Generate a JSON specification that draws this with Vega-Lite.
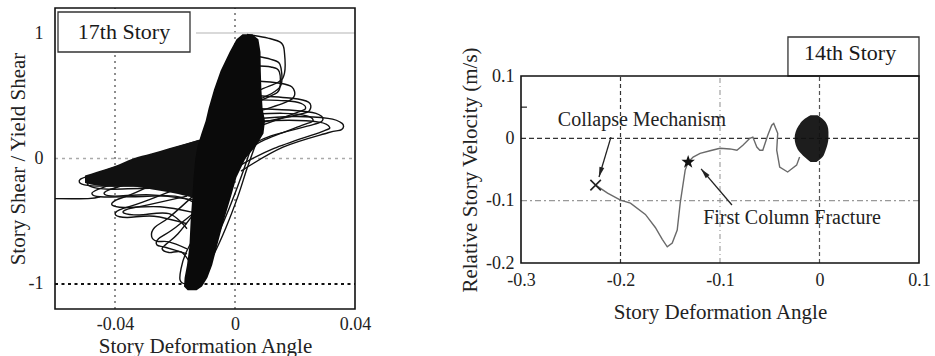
{
  "$schema": "https://vega.github.io/schema/vega-lite/v6.json",
  "background": "white",
  "padding": {"left": 7, "top": 7, "right": 0, "bottom": 0},
  "config": {"view": {"stroke": null}, "font": "Liberation Serif"},
  "bounds": "flush",
  "spacing": 166,
  "datasets": {
    "one": [{}],
    "core": [
      {"y": -1.05, "xl": -0.0158, "xr": -0.0128},
      {"y": -1.02, "xl": -0.0170, "xr": -0.0110},
      {"y": -0.95, "xl": -0.0168, "xr": -0.0092},
      {"y": -0.85, "xl": -0.0160, "xr": -0.0076},
      {"y": -0.70, "xl": -0.0152, "xr": -0.0060},
      {"y": -0.50, "xl": -0.0148, "xr": -0.0038},
      {"y": -0.30, "xl": -0.0142, "xr": -0.0013},
      {"y": -0.15, "xl": -0.0138, "xr": 0.0005},
      {"y": 0.00, "xl": -0.0132, "xr": 0.0035},
      {"y": 0.10, "xl": -0.0125, "xr": 0.0070},
      {"y": 0.20, "xl": -0.0112, "xr": 0.0095},
      {"y": 0.30, "xl": -0.0098, "xr": 0.0100},
      {"y": 0.40, "xl": -0.0088, "xr": 0.0092},
      {"y": 0.55, "xl": -0.0070, "xr": 0.0088},
      {"y": 0.70, "xl": -0.0048, "xr": 0.0086},
      {"y": 0.85, "xl": -0.0018, "xr": 0.0085},
      {"y": 0.95, "xl": 0.0005, "xr": 0.0078},
      {"y": 0.99, "xl": 0.0025, "xr": 0.0058}
    ],
    "wing": [
      {"x": -0.050, "yl": -0.195, "yu": -0.135},
      {"x": -0.046, "yl": -0.215, "yu": -0.105},
      {"x": -0.040, "yl": -0.225, "yu": -0.06},
      {"x": -0.034, "yl": -0.225, "yu": 0.0},
      {"x": -0.028, "yl": -0.245, "yu": 0.04},
      {"x": -0.022, "yl": -0.27, "yu": 0.082},
      {"x": -0.016, "yl": -0.3, "yu": 0.122},
      {"x": -0.012, "yl": -0.32, "yu": 0.15}
    ],
    "loops": [
      {"g": "R1", "i": 0, "x": 0.004, "y": 0.99}, {"g": "R1", "i": 1, "x": 0.011, "y": 0.96}, {"g": "R1", "i": 2, "x": 0.0155, "y": 0.92}, {"g": "R1", "i": 3, "x": 0.0165, "y": 0.84}, {"g": "R1", "i": 4, "x": 0.0165, "y": 0.68}, {"g": "R1", "i": 5, "x": 0.0145, "y": 0.61}, {"g": "R1", "i": 6, "x": 0.008, "y": 0.54}, {"g": "R1", "i": 7, "x": 0.004, "y": 0.45},
      {"g": "R2", "i": 0, "x": 0.006, "y": 0.82}, {"g": "R2", "i": 1, "x": 0.012, "y": 0.79}, {"g": "R2", "i": 2, "x": 0.015, "y": 0.75}, {"g": "R2", "i": 3, "x": 0.0155, "y": 0.6}, {"g": "R2", "i": 4, "x": 0.013, "y": 0.53}, {"g": "R2", "i": 5, "x": 0.007, "y": 0.46},
      {"g": "R3", "i": 0, "x": 0.006, "y": 0.74}, {"g": "R3", "i": 1, "x": 0.012, "y": 0.73}, {"g": "R3", "i": 2, "x": 0.0148, "y": 0.69}, {"g": "R3", "i": 3, "x": 0.0148, "y": 0.55}, {"g": "R3", "i": 4, "x": 0.012, "y": 0.5}, {"g": "R3", "i": 5, "x": 0.006, "y": 0.44},
      {"g": "R4", "i": 0, "x": 0.006, "y": 0.62}, {"g": "R4", "i": 1, "x": 0.015, "y": 0.6}, {"g": "R4", "i": 2, "x": 0.019, "y": 0.57}, {"g": "R4", "i": 3, "x": 0.0198, "y": 0.5}, {"g": "R4", "i": 4, "x": 0.017, "y": 0.45}, {"g": "R4", "i": 5, "x": 0.007, "y": 0.37},
      {"g": "R5", "i": 0, "x": 0.007, "y": 0.5}, {"g": "R5", "i": 1, "x": 0.019, "y": 0.48}, {"g": "R5", "i": 2, "x": 0.0245, "y": 0.45}, {"g": "R5", "i": 3, "x": 0.025, "y": 0.39}, {"g": "R5", "i": 4, "x": 0.022, "y": 0.355}, {"g": "R5", "i": 5, "x": 0.007, "y": 0.28},
      {"g": "R6", "i": 0, "x": 0.006, "y": 0.47}, {"g": "R6", "i": 1, "x": 0.017, "y": 0.46}, {"g": "R6", "i": 2, "x": 0.022, "y": 0.44}, {"g": "R6", "i": 3, "x": 0.0235, "y": 0.4}, {"g": "R6", "i": 4, "x": 0.021, "y": 0.37}, {"g": "R6", "i": 5, "x": 0.006, "y": 0.24},
      {"g": "R7", "i": 0, "x": 0.005, "y": 0.4}, {"g": "R7", "i": 1, "x": 0.019, "y": 0.385}, {"g": "R7", "i": 2, "x": 0.027, "y": 0.36}, {"g": "R7", "i": 3, "x": 0.0293, "y": 0.31}, {"g": "R7", "i": 4, "x": 0.026, "y": 0.27}, {"g": "R7", "i": 5, "x": 0.012, "y": 0.18}, {"g": "R7", "i": 6, "x": 0.003, "y": 0.08},
      {"g": "R8", "i": 0, "x": 0.004, "y": 0.31}, {"g": "R8", "i": 1, "x": 0.019, "y": 0.335}, {"g": "R8", "i": 2, "x": 0.031, "y": 0.32}, {"g": "R8", "i": 3, "x": 0.0357, "y": 0.28}, {"g": "R8", "i": 4, "x": 0.0355, "y": 0.23}, {"g": "R8", "i": 5, "x": 0.031, "y": 0.205}, {"g": "R8", "i": 6, "x": 0.016, "y": 0.09}, {"g": "R8", "i": 7, "x": 0.002, "y": -0.1},
      {"g": "R9", "i": 0, "x": 0.004, "y": 0.29}, {"g": "R9", "i": 1, "x": 0.018, "y": 0.305}, {"g": "R9", "i": 2, "x": 0.028, "y": 0.29}, {"g": "R9", "i": 3, "x": 0.0315, "y": 0.25}, {"g": "R9", "i": 4, "x": 0.029, "y": 0.215}, {"g": "R9", "i": 5, "x": 0.013, "y": 0.08}, {"g": "R9", "i": 6, "x": 0.002, "y": -0.05},
      {"g": "R10", "i": 0, "x": 0.005, "y": 0.35}, {"g": "R10", "i": 1, "x": 0.016, "y": 0.36}, {"g": "R10", "i": 2, "x": 0.024, "y": 0.34}, {"g": "R10", "i": 3, "x": 0.026, "y": 0.3}, {"g": "R10", "i": 4, "x": 0.023, "y": 0.27}, {"g": "R10", "i": 5, "x": 0.01, "y": 0.15}, {"g": "R10", "i": 6, "x": 0.003, "y": 0.05},
      {"g": "R11", "i": 0, "x": 0.007, "y": 0.12}, {"g": "R11", "i": 1, "x": 0.004, "y": -0.08}, {"g": "R11", "i": 2, "x": 0.001, "y": -0.3}, {"g": "R11", "i": 3, "x": -0.003, "y": -0.55}, {"g": "R11", "i": 4, "x": -0.007, "y": -0.76}, {"g": "R11", "i": 5, "x": -0.011, "y": -0.92},
      {"g": "R12", "i": 0, "x": 0.005, "y": 0.06}, {"g": "R12", "i": 1, "x": 0.002, "y": -0.15}, {"g": "R12", "i": 2, "x": -0.002, "y": -0.4}, {"g": "R12", "i": 3, "x": -0.006, "y": -0.62}, {"g": "R12", "i": 4, "x": -0.01, "y": -0.8},
      {"g": "L1", "i": 0, "x": -0.011, "y": 0.15}, {"g": "L1", "i": 1, "x": -0.03, "y": 0.01}, {"g": "L1", "i": 2, "x": -0.046, "y": -0.12}, {"g": "L1", "i": 3, "x": -0.0515, "y": -0.165}, {"g": "L1", "i": 4, "x": -0.051, "y": -0.205}, {"g": "L1", "i": 5, "x": -0.046, "y": -0.22}, {"g": "L1", "i": 6, "x": -0.03, "y": -0.215}, {"g": "L1", "i": 7, "x": -0.015, "y": -0.22}, {"g": "L1", "i": 8, "x": -0.012, "y": -0.28},
      {"g": "L2", "i": 0, "x": -0.012, "y": 0.1}, {"g": "L2", "i": 1, "x": -0.04, "y": -0.12}, {"g": "L2", "i": 2, "x": -0.0485, "y": -0.18}, {"g": "L2", "i": 3, "x": -0.048, "y": -0.225}, {"g": "L2", "i": 4, "x": -0.042, "y": -0.245}, {"g": "L2", "i": 5, "x": -0.025, "y": -0.24}, {"g": "L2", "i": 6, "x": -0.013, "y": -0.3},
      {"g": "L3", "i": 0, "x": -0.012, "y": 0.05}, {"g": "L3", "i": 1, "x": -0.038, "y": -0.18}, {"g": "L3", "i": 2, "x": -0.0455, "y": -0.245}, {"g": "L3", "i": 3, "x": -0.0477, "y": -0.28}, {"g": "L3", "i": 4, "x": -0.045, "y": -0.305}, {"g": "L3", "i": 5, "x": -0.034, "y": -0.305}, {"g": "L3", "i": 6, "x": -0.02, "y": -0.3}, {"g": "L3", "i": 7, "x": -0.013, "y": -0.36},
      {"g": "L4", "i": 0, "x": -0.013, "y": 0.0}, {"g": "L4", "i": 1, "x": -0.033, "y": -0.18}, {"g": "L4", "i": 2, "x": -0.042, "y": -0.25}, {"g": "L4", "i": 3, "x": -0.0435, "y": -0.285}, {"g": "L4", "i": 4, "x": -0.04, "y": -0.3}, {"g": "L4", "i": 5, "x": -0.028, "y": -0.29}, {"g": "L4", "i": 6, "x": -0.014, "y": -0.33},
      {"g": "L5", "i": 0, "x": -0.014, "y": -0.05}, {"g": "L5", "i": 1, "x": -0.033, "y": -0.27}, {"g": "L5", "i": 2, "x": -0.0395, "y": -0.33}, {"g": "L5", "i": 3, "x": -0.041, "y": -0.37}, {"g": "L5", "i": 4, "x": -0.037, "y": -0.39}, {"g": "L5", "i": 5, "x": -0.025, "y": -0.385}, {"g": "L5", "i": 6, "x": -0.014, "y": -0.43},
      {"g": "L6", "i": 0, "x": -0.015, "y": -0.2}, {"g": "L6", "i": 1, "x": -0.031, "y": -0.35}, {"g": "L6", "i": 2, "x": -0.0385, "y": -0.41}, {"g": "L6", "i": 3, "x": -0.0398, "y": -0.45}, {"g": "L6", "i": 4, "x": -0.036, "y": -0.47}, {"g": "L6", "i": 5, "x": -0.027, "y": -0.46}, {"g": "L6", "i": 6, "x": -0.016, "y": -0.52},
      {"g": "L7", "i": 0, "x": -0.016, "y": -0.3}, {"g": "L7", "i": 1, "x": -0.029, "y": -0.37}, {"g": "L7", "i": 2, "x": -0.036, "y": -0.405}, {"g": "L7", "i": 3, "x": -0.037, "y": -0.435}, {"g": "L7", "i": 4, "x": -0.032, "y": -0.45}, {"g": "L7", "i": 5, "x": -0.022, "y": -0.44}, {"g": "L7", "i": 6, "x": -0.016, "y": -0.56},
      {"g": "L8", "i": 0, "x": -0.014, "y": -0.3}, {"g": "L8", "i": 1, "x": -0.022, "y": -0.47}, {"g": "L8", "i": 2, "x": -0.0268, "y": -0.55}, {"g": "L8", "i": 3, "x": -0.0278, "y": -0.62}, {"g": "L8", "i": 4, "x": -0.026, "y": -0.66}, {"g": "L8", "i": 5, "x": -0.022, "y": -0.665}, {"g": "L8", "i": 6, "x": -0.016, "y": -0.72},
      {"g": "L9", "i": 0, "x": -0.013, "y": -0.42}, {"g": "L9", "i": 1, "x": -0.021, "y": -0.57}, {"g": "L9", "i": 2, "x": -0.0255, "y": -0.64}, {"g": "L9", "i": 3, "x": -0.026, "y": -0.69}, {"g": "L9", "i": 4, "x": -0.023, "y": -0.71}, {"g": "L9", "i": 5, "x": -0.016, "y": -0.76},
      {"g": "L10", "i": 0, "x": -0.014, "y": -0.45}, {"g": "L10", "i": 1, "x": -0.019, "y": -0.6}, {"g": "L10", "i": 2, "x": -0.0228, "y": -0.68}, {"g": "L10", "i": 3, "x": -0.0243, "y": -0.72}, {"g": "L10", "i": 4, "x": -0.022, "y": -0.75}, {"g": "L10", "i": 5, "x": -0.018, "y": -0.745}, {"g": "L10", "i": 6, "x": -0.015, "y": -0.83},
      {"g": "L11", "i": 0, "x": -0.013, "y": -0.6}, {"g": "L11", "i": 1, "x": -0.0165, "y": -0.76}, {"g": "L11", "i": 2, "x": -0.018, "y": -0.88}, {"g": "L11", "i": 3, "x": -0.0183, "y": -0.97}, {"g": "L11", "i": 4, "x": -0.0165, "y": -1.0}, {"g": "L11", "i": 5, "x": -0.014, "y": -0.98},
      {"g": "L12", "i": 0, "x": -0.06, "y": -0.32}, {"g": "L12", "i": 1, "x": -0.049, "y": -0.32}, {"g": "L12", "i": 2, "x": -0.045, "y": -0.305}
    ],
    "blob": [
      {"y": 0.037, "xl": -0.009, "xr": -0.002},
      {"y": 0.03, "xl": -0.016, "xr": 0.004},
      {"y": 0.02, "xl": -0.021, "xr": 0.008},
      {"y": 0.01, "xl": -0.024, "xr": 0.009},
      {"y": 0.0, "xl": -0.025, "xr": 0.009},
      {"y": -0.01, "xl": -0.024, "xr": 0.008},
      {"y": -0.02, "xl": -0.021, "xr": 0.006},
      {"y": -0.03, "xl": -0.015, "xr": 0.003},
      {"y": -0.038, "xl": -0.009, "xr": -0.003}
    ],
    "curve": [
      {"i": 0, "x": -0.02, "y": -0.03}, {"i": 1, "x": -0.023, "y": -0.043}, {"i": 2, "x": -0.032, "y": -0.054}, {"i": 3, "x": -0.04, "y": -0.046},
      {"i": 4, "x": -0.043, "y": -0.019}, {"i": 5, "x": -0.042, "y": 0.008}, {"i": 6, "x": -0.046, "y": 0.024}, {"i": 7, "x": -0.048, "y": 0.021},
      {"i": 8, "x": -0.052, "y": 0.005}, {"i": 9, "x": -0.057, "y": -0.019}, {"i": 10, "x": -0.06, "y": -0.019}, {"i": 11, "x": -0.063, "y": -0.014},
      {"i": 12, "x": -0.067, "y": 0.002}, {"i": 13, "x": -0.07, "y": 0.0}, {"i": 14, "x": -0.077, "y": -0.011}, {"i": 15, "x": -0.083, "y": -0.019},
      {"i": 16, "x": -0.09, "y": -0.017}, {"i": 17, "x": -0.1, "y": -0.016}, {"i": 18, "x": -0.11, "y": -0.02}, {"i": 19, "x": -0.12, "y": -0.024},
      {"i": 20, "x": -0.127, "y": -0.03}, {"i": 21, "x": -0.132, "y": -0.038}, {"i": 22, "x": -0.135, "y": -0.051}, {"i": 23, "x": -0.14, "y": -0.104},
      {"i": 24, "x": -0.143, "y": -0.147}, {"i": 25, "x": -0.148, "y": -0.168}, {"i": 26, "x": -0.153, "y": -0.174}, {"i": 27, "x": -0.158, "y": -0.162},
      {"i": 28, "x": -0.165, "y": -0.143}, {"i": 29, "x": -0.175, "y": -0.122}, {"i": 30, "x": -0.19, "y": -0.104}, {"i": 31, "x": -0.2, "y": -0.099},
      {"i": 32, "x": -0.213, "y": -0.088}, {"i": 33, "x": -0.225, "y": -0.075}
    ]
  },
  "hconcat": [
    {
      "width": 300,
      "height": 301,
      "layer": [
        {"data": {"name": "one"}, "mark": {"type": "rule", "stroke": "#444", "strokeWidth": 1.2, "strokeDash": [2, 4]},
         "encoding": {"x": {"datum": -0.04, "type": "quantitative"}, "y": {"datum": -1.2, "type": "quantitative"}, "y2": {"datum": 1.2}}},
        {"data": {"name": "one"}, "mark": {"type": "rule", "stroke": "#444", "strokeWidth": 1.2, "strokeDash": [2, 4]},
         "encoding": {"x": {"datum": 0, "type": "quantitative"}, "y": {"datum": -1.2, "type": "quantitative"}, "y2": {"datum": 1.2}}},
        {"data": {"name": "one"}, "mark": {"type": "rule", "stroke": "#aaa", "strokeWidth": 1.4, "strokeDash": [3, 4]},
         "encoding": {"y": {"datum": 0, "type": "quantitative"}, "x": {"datum": -0.06, "type": "quantitative"}, "x2": {"datum": 0.04}}},
        {"data": {"name": "one"}, "mark": {"type": "rule", "stroke": "#ccc", "strokeWidth": 1.5},
         "encoding": {"y": {"datum": 1, "type": "quantitative"}, "x": {"datum": -0.013, "type": "quantitative"}, "x2": {"datum": 0.04}}},
        {"data": {"name": "one"}, "mark": {"type": "rule", "stroke": "#111", "strokeWidth": 2, "strokeDash": [3, 3.5]},
         "encoding": {"y": {"datum": -1, "type": "quantitative"}, "x": {"datum": -0.06, "type": "quantitative"}, "x2": {"datum": 0.04}}},
        {"data": {"name": "loops"},
         "mark": {"type": "line", "color": "#111", "strokeWidth": 1.4, "interpolate": "cardinal"},
         "encoding": {"x": {"field": "x", "type": "quantitative"}, "y": {"field": "y", "type": "quantitative"}, "detail": {"field": "g"}, "order": {"field": "i", "type": "quantitative"}}},
        {"data": {"name": "wing"},
         "mark": {"type": "area", "color": "#111", "opacity": 1, "interpolate": "monotone"},
         "encoding": {"x": {"field": "x", "type": "quantitative"}, "y": {"field": "yl", "type": "quantitative"}, "y2": {"field": "yu"}}},
        {"data": {"name": "core"},
         "mark": {"type": "area", "color": "#0a0a0a", "orient": "horizontal"},
         "encoding": {"y": {"field": "y", "type": "quantitative"}, "x": {"field": "xl", "type": "quantitative"}, "x2": {"field": "xr"}}},
        {"data": {"name": "one"}, "mark": {"type": "rect", "fill": "white", "stroke": "#333", "strokeWidth": 1.3},
         "encoding": {"x": {"datum": -0.059, "type": "quantitative"}, "x2": {"datum": -0.015}, "y": {"datum": 0.849, "type": "quantitative"}, "y2": {"datum": 1.168}}},
        {"data": {"values": [{"x": -0.037, "y": 1.009, "t": "17th Story"}]},
         "mark": {"type": "text", "fontSize": 22, "color": "#1a1a1a", "baseline": "middle", "align": "center"},
         "encoding": {"x": {"field": "x", "type": "quantitative"}, "y": {"field": "y", "type": "quantitative"}, "text": {"field": "t"}}},
        {"data": {"name": "one"}, "mark": {"type": "rect", "fill": "transparent", "stroke": "#111", "strokeWidth": 1.6},
         "encoding": {
           "x": {"datum": -0.06, "type": "quantitative",
                 "scale": {"domain": [-0.06, 0.04], "nice": false, "zero": false},
                 "axis": {"values": [-0.04, 0, 0.04], "format": "~g", "title": "Story Deformation Angle", "labelExpr": "replace(datum.label, '−', '-')",
                          "domain": false, "ticks": false, "grid": false, "labelFlush": false, "labelOverlap": false,
                          "labelPadding": 6, "titlePadding": 2, "labelFontSize": 18, "titleFontSize": 21, "titleFontWeight": "normal",
                          "labelColor": "#222", "titleColor": "#222", "labelFont": "Liberation Serif", "titleFont": "Liberation Serif"}},
           "x2": {"datum": 0.04},
           "y": {"datum": -1.2, "type": "quantitative",
                 "scale": {"domain": [-1.2, 1.2], "nice": false, "zero": false},
                 "axis": {"values": [-1, 0, 1], "format": "~g", "title": "Story Shear / Yield Shear", "labelExpr": "replace(datum.label, '−', '-')",
                          "domain": false, "ticks": false, "grid": false, "labelFlush": false, "labelOverlap": false,
                          "labelPadding": 12, "titlePadding": 0, "labelFontSize": 18, "titleFontSize": 21, "titleFontWeight": "normal",
                          "labelColor": "#222", "titleColor": "#222", "labelFont": "Liberation Serif", "titleFont": "Liberation Serif"}},
           "y2": {"datum": 1.2}}}
      ]
    },
    {
      "width": 398,
      "height": 255,
      "layer": [
        {"data": {"name": "one"}, "mark": {"type": "rule", "stroke": "#333", "strokeWidth": 1.2, "strokeDash": [4, 3]},
         "encoding": {"x": {"datum": -0.2, "type": "quantitative"}, "y": {"datum": -0.2, "type": "quantitative"}, "y2": {"datum": 0.1}}},
        {"data": {"name": "one"}, "mark": {"type": "rule", "stroke": "#999", "strokeWidth": 1.1, "strokeDash": [5, 3, 1, 3]},
         "encoding": {"x": {"datum": -0.1, "type": "quantitative"}, "y": {"datum": -0.2, "type": "quantitative"}, "y2": {"datum": 0.1}}},
        {"data": {"name": "one"}, "mark": {"type": "rule", "stroke": "#555", "strokeWidth": 1.2, "strokeDash": [4, 3]},
         "encoding": {"x": {"datum": 0, "type": "quantitative"}, "y": {"datum": -0.2, "type": "quantitative"}, "y2": {"datum": 0.1}}},
        {"data": {"name": "one"}, "mark": {"type": "rule", "stroke": "#333", "strokeWidth": 1.3, "strokeDash": [5, 3]},
         "encoding": {"y": {"datum": 0, "type": "quantitative"}, "x": {"datum": -0.3, "type": "quantitative"}, "x2": {"datum": 0.1}}},
        {"data": {"name": "one"}, "mark": {"type": "rule", "stroke": "#999", "strokeWidth": 1.1, "strokeDash": [6, 3, 2, 3]},
         "encoding": {"y": {"datum": -0.1, "type": "quantitative"}, "x": {"datum": -0.3, "type": "quantitative"}, "x2": {"datum": 0.1}}},
        {"data": {"name": "one"}, "mark": {"type": "rule", "stroke": "#333", "strokeWidth": 1.3},
         "encoding": {"y": {"datum": 0.05, "type": "quantitative"}, "x": {"datum": -0.3, "type": "quantitative"}, "x2": {"datum": -0.294}}},
        {"data": {"name": "curve"},
         "mark": {"type": "line", "color": "#6a6a6a", "strokeWidth": 1.4},
         "encoding": {"x": {"field": "x", "type": "quantitative"}, "y": {"field": "y", "type": "quantitative"}, "order": {"field": "i", "type": "quantitative"}}},
        {"data": {"name": "blob"},
         "mark": {"type": "area", "color": "#111", "orient": "horizontal", "interpolate": "monotone", "opacity": 0.95},
         "encoding": {"y": {"field": "y", "type": "quantitative"}, "x": {"field": "xl", "type": "quantitative"}, "x2": {"field": "xr"}}},
        {"data": {"values": [{"x": -0.225, "y": -0.075}]},
         "mark": {"type": "point", "shape": "M-1,-1L1,1M1,-1L-1,1", "filled": false, "stroke": "#222", "strokeWidth": 1.6, "size": 110, "opacity": 1},
         "encoding": {"x": {"field": "x", "type": "quantitative"}, "y": {"field": "y", "type": "quantitative"}}},
        {"data": {"values": [{"x": -0.132, "y": -0.038}]},
         "mark": {"type": "point", "shape": "M0,-1L0.235,-0.324L0.951,-0.309L0.38,0.124L0.588,0.809L0,0.4L-0.588,0.809L-0.38,0.124L-0.951,-0.309L-0.235,-0.324Z", "filled": true, "color": "#111", "size": 200, "opacity": 1},
         "encoding": {"x": {"field": "x", "type": "quantitative"}, "y": {"field": "y", "type": "quantitative"}}},
        {"data": {"values": [{"x": -0.2096, "y": 0.002, "x2": -0.2216, "y2": -0.062}, {"x": -0.088, "y": -0.107, "x2": -0.119, "y2": -0.049}]},
         "mark": {"type": "rule", "stroke": "#222", "strokeWidth": 1.3},
         "encoding": {"x": {"field": "x", "type": "quantitative"}, "y": {"field": "y", "type": "quantitative"}, "x2": {"field": "x2"}, "y2": {"field": "y2"}}},
        {"data": {"values": [{"x": -0.2202, "y": -0.0543, "a": 196.7}, {"x": -0.1157, "y": -0.0553, "a": 319.2}]},
         "mark": {"type": "point", "shape": "M0,-1L0.5,1L-0.5,1Z", "filled": true, "color": "#222", "size": 100, "opacity": 1},
         "encoding": {"x": {"field": "x", "type": "quantitative"}, "y": {"field": "y", "type": "quantitative"}, "angle": {"field": "a", "type": "quantitative", "scale": null}}},
        {"data": {"values": [{"x": -0.1784, "y": 0.0294, "t": "Collapse Mechanism"}, {"x": -0.0276, "y": -0.1278, "t": "First Column Fracture"}]},
         "mark": {"type": "text", "fontSize": 20, "color": "#222", "baseline": "middle", "align": "center"},
         "encoding": {"x": {"field": "x", "type": "quantitative"}, "y": {"field": "y", "type": "quantitative"}, "text": {"field": "t"}}},
        {"data": {"name": "one"}, "mark": {"type": "rect", "fill": "white", "stroke": "#333", "strokeWidth": 1.3},
         "encoding": {"x": {"datum": -0.0317, "type": "quantitative"}, "x2": {"datum": 0.1}, "y": {"datum": 0.1, "type": "quantitative"}, "y2": {"datum": 0.1626}}},
        {"data": {"values": [{"x": 0.0307, "y": 0.137, "t": "14th Story"}]},
         "mark": {"type": "text", "fontSize": 22, "color": "#1a1a1a", "baseline": "middle", "align": "center"},
         "encoding": {"x": {"field": "x", "type": "quantitative"}, "y": {"field": "y", "type": "quantitative"}, "text": {"field": "t"}}},
        {"data": {"name": "one"}, "mark": {"type": "rect", "fill": "transparent", "stroke": "#111", "strokeWidth": 1.6},
         "encoding": {
           "x": {"datum": -0.3, "type": "quantitative",
                 "scale": {"domain": [-0.3, 0.1], "nice": false, "zero": false},
                 "axis": {"values": [-0.3, -0.2, -0.1, 0, 0.1], "format": "~g", "title": "Story Deformation Angle", "labelExpr": "replace(datum.label, '−', '-')",
                          "domain": false, "ticks": false, "grid": false, "labelFlush": false, "labelOverlap": false,
                          "labelPadding": 8, "titlePadding": 12, "labelFontSize": 18, "titleFontSize": 21, "titleFontWeight": "normal",
                          "labelColor": "#222", "titleColor": "#222", "labelFont": "Liberation Serif", "titleFont": "Liberation Serif"}},
           "x2": {"datum": 0.1},
           "y": {"datum": -0.2, "type": "quantitative",
                 "scale": {"domain": [-0.2, 0.1], "range": [255, 68], "nice": false, "zero": false},
                 "axis": {"values": [-0.2, -0.1, 0, 0.1], "format": "~g", "title": "Relative Story Velocity (m/s)", "labelExpr": "replace(datum.label, '−', '-')",
                          "domain": false, "ticks": false, "grid": false, "labelFlush": false, "labelOverlap": false,
                          "labelPadding": 7, "titlePadding": 5, "labelFontSize": 18, "titleFontSize": 21, "titleFontWeight": "normal",
                          "labelColor": "#222", "titleColor": "#222", "labelFont": "Liberation Serif", "titleFont": "Liberation Serif"}},
           "y2": {"datum": 0.1}}}
      ]
    }
  ]
}
